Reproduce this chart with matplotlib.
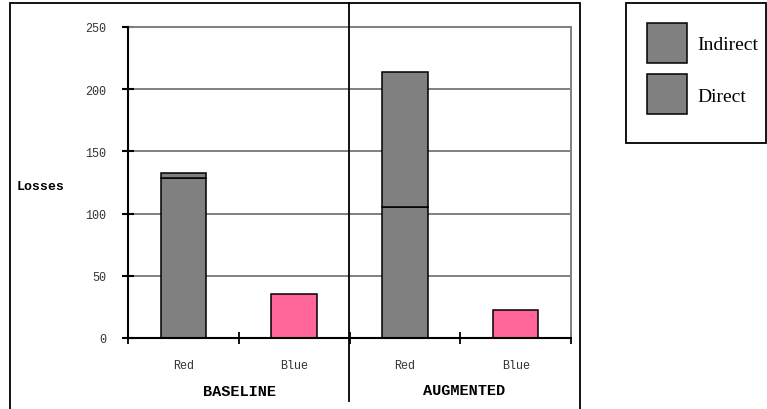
import numpy as np
import matplotlib.pyplot as plt
from matplotlib.patches import Rectangle
from matplotlib.lines import Line2D

# -----------------------------
# Data
# -----------------------------
groups = ["BASELINE", "AUGMENTED"]
sides = ["Red", "Blue"]
red_direct = [129, 105]
red_indirect = [3.5, 109]
blue_losses = [35, 22.5]
y_ticks = [0, 50, 100, 150, 200, 250]

GRAY = "#808080"
PINK = "#FF6699"
MONO = ["Liberation Mono", "DejaVu Sans Mono"]
SERIF = ["Liberation Serif", "DejaVu Serif"]

W, H = 767, 410
fig = plt.figure(figsize=(W / 100, H / 100), dpi=100)


def fx(px):
    return px / W


def fy(py):
    return 1 - py / H


ax = fig.add_axes([fx(128), fy(339), fx(571) - fx(128), fy(28) - fy(339)])

# category positions: one slot per (group, side)
pos_red = np.array([0.5, 2.5])
pos_blue = np.array([1.5, 3.5])
bw = 0.41

ax.bar(pos_red, red_direct, width=bw, color=GRAY, edgecolor="black", lw=1.1, zorder=3)
ax.bar(pos_red, red_indirect, width=bw, bottom=red_direct, color=GRAY,
       edgecolor="black", lw=1.1, zorder=3)
ax.bar(pos_blue, blue_losses, width=bw, color=PINK, edgecolor="black", lw=1.1, zorder=3)

ax.set_xlim(0, 4)
ax.set_ylim(0, 250)

# gridlines
for y in y_ticks[1:]:
    ax.axhline(y, color=GRAY, lw=1.4, zorder=1)

for s in ["top", "right"]:
    ax.spines[s].set_color(GRAY)
    ax.spines[s].set_linewidth(1.4)
ax.spines["left"].set_linewidth(1.5)
ax.spines["bottom"].set_linewidth(1.5)
ax.spines["left"].set_zorder(4)
ax.spines["bottom"].set_zorder(4)

ax.set_yticks(y_ticks)
ax.set_yticklabels([str(v) for v in y_ticks], family=MONO, fontsize=8.5, color="#333333")
ax.tick_params(axis="y", direction="inout", length=8, width=1.5, pad=12)

ax.set_xticks([0, 1, 2, 3, 4])
ax.set_xticklabels([])
ax.tick_params(axis="x", which="major", direction="inout", length=8, width=1.3)
ax.set_xticks([0.5, 1.5, 2.5, 3.5], minor=True)
ax.set_xticklabels(sides * 2, minor=True, family=MONO, fontsize=8.5, color="#333333")
ax.tick_params(axis="x", which="minor", length=0, pad=15)

# group labels
fig.text(fx(240), fy(392), groups[0], family=MONO, fontweight="bold", fontsize=11,
         ha="center", va="center")
fig.text(fx(464), fy(391), groups[1], family=MONO, fontweight="bold", fontsize=11,
         ha="center", va="center")

# y label
fig.text(fx(17), fy(187), "Losses", family=MONO, fontweight="bold", fontsize=9.5,
         ha="left", va="center")

# outer chart frame and group divider
fig.add_artist(Rectangle((fx(10), fy(415)), fx(580) - fx(10), fy(4) - fy(415),
                         transform=fig.transFigure, fill=False, ec="black", lw=1.3))
fig.add_artist(Line2D([fx(349), fx(349)], [fy(4), fy(402)], transform=fig.transFigure,
                      color="black", lw=1.3))

# legend box
fig.add_artist(Rectangle((fx(626), fy(144)), fx(766) - fx(626), fy(4) - fy(144),
                         transform=fig.transFigure, fill=False, ec="black", lw=1.3))
for top, label in [(24, "Indirect"), (75, "Direct")]:
    fig.add_artist(Rectangle((fx(647), fy(top + 40)), fx(687) - fx(647), fy(top) - fy(top + 40),
                             transform=fig.transFigure, fc=GRAY, ec="black", lw=1.1))
    fig.text(fx(697), fy(top + 22), label, family=SERIF, fontsize=14,
             ha="left", va="center")

fig.savefig("out.png", dpi=100)
